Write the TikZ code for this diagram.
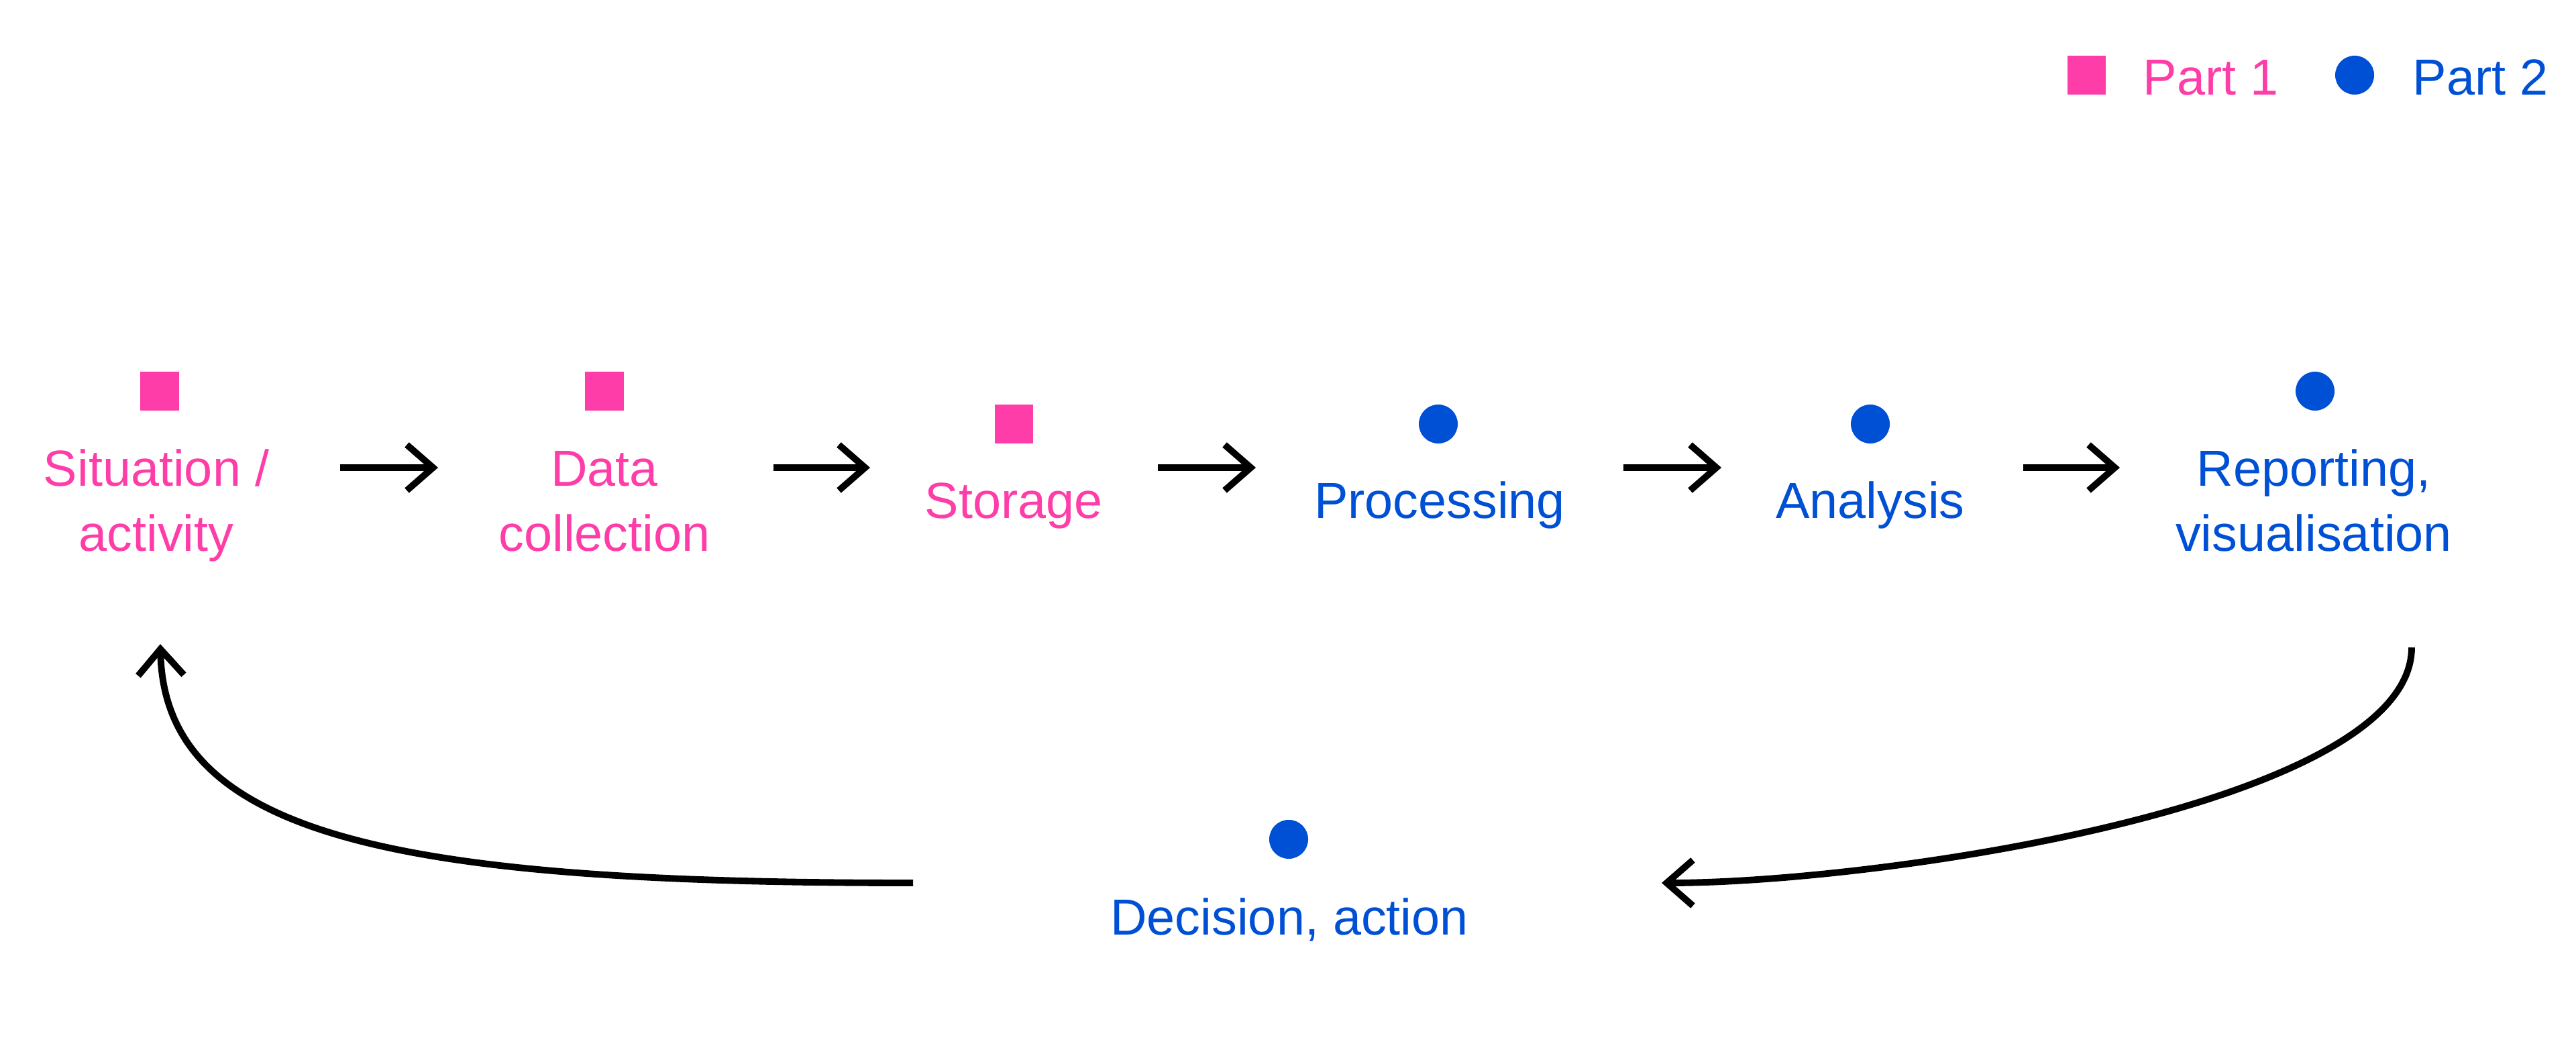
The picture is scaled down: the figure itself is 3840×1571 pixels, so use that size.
\documentclass[tikz,border=0pt]{standalone}
\usepackage{fontspec}
\setmainfont{Liberation Sans}
\usetikzlibrary{arrows.meta}
\definecolor{pinkc}{HTML}{FF3DA8}
\definecolor{bluec}{HTML}{0050D5}
\begin{document}
\begin{tikzpicture}[x=0.01cm,y=-0.01cm,
  lbl/.style={font=\fontsize{21.5}{27.6}\selectfont, align=center, anchor=base, inner sep=0pt},
  pinklbl/.style={lbl, text=pinkc},
  bluelbl/.style={lbl, text=bluec},
  sq/.style={fill=pinkc, minimum size=0.57cm, inner sep=0pt},
  dot/.style={circle, fill=bluec, minimum size=0.58cm, inner sep=0pt},
  arr/.style={line width=2.8pt, -{Straight Barb[length=3.9mm,width=6.8mm]}}]
\fill[white] (0,0) rectangle (3840,1571);
\useasboundingbox (0,0) rectangle (3840,1571);
% legend
\node[sq] (lsq) at (3110,112) {};
\node[lbl, text=pinkc, anchor=base west] (lp1) at (3194,142) {Part 1};
\node[dot] (ldot) at (3510,112) {};
\node[lbl, text=bluec, anchor=base west] (lp2) at (3596,142) {Part 2};
% markers
\node[sq] (m1) at (238,583) {};
\node[sq] (m2) at (901,583) {};
\node[sq] (m3) at (1511,632) {};
\node[dot] (m4) at (2144,632) {};
\node[dot] (m5) at (2788,632) {};
\node[dot] (m6) at (3451,583) {};
\node[dot] (m7) at (1921,1251) {};
% labels (base = baseline of the last line)
\node[pinklbl] (t1) at (233,822) {Situation /\\activity};
\node[pinklbl] (t2) at (901,822) {Data\\collection};
\node[pinklbl] (t3) at (1511,773) {Storage};
\node[bluelbl] (t4) at (2146,773) {Processing};
\node[bluelbl] (t5) at (2788,773) {Analysis};
\node[bluelbl] (t6) at (3449,822) {Reporting,\\visualisation};
\node[bluelbl] (t7) at (1922,1393) {Decision, action};
% straight connectors
\coordinate (a1) at (507,697);  \coordinate (b1) at (653,697);
\coordinate (a2) at (1153,697); \coordinate (b2) at (1297,697);
\coordinate (a3) at (1726,697); \coordinate (b3) at (1872,697);
\coordinate (a4) at (2420,697); \coordinate (b4) at (2566,697);
\coordinate (a5) at (3016,697); \coordinate (b5) at (3160,697);
\foreach \i in {1,...,5} \draw[arr] (a\i) -- (b\i);
% curved connectors
\coordinate (r1) at (3595,965);
\coordinate (r2) at (2477,1316);
\draw[arr] (r1) .. controls (3595,1200) and (2800,1316) .. (r2);
\coordinate (l1) at (1361,1316);
\coordinate (l2) at (239,960);
\draw[arr] (l1) .. controls (600,1316) and (245,1250) .. (l2);
\end{tikzpicture}
\end{document}
